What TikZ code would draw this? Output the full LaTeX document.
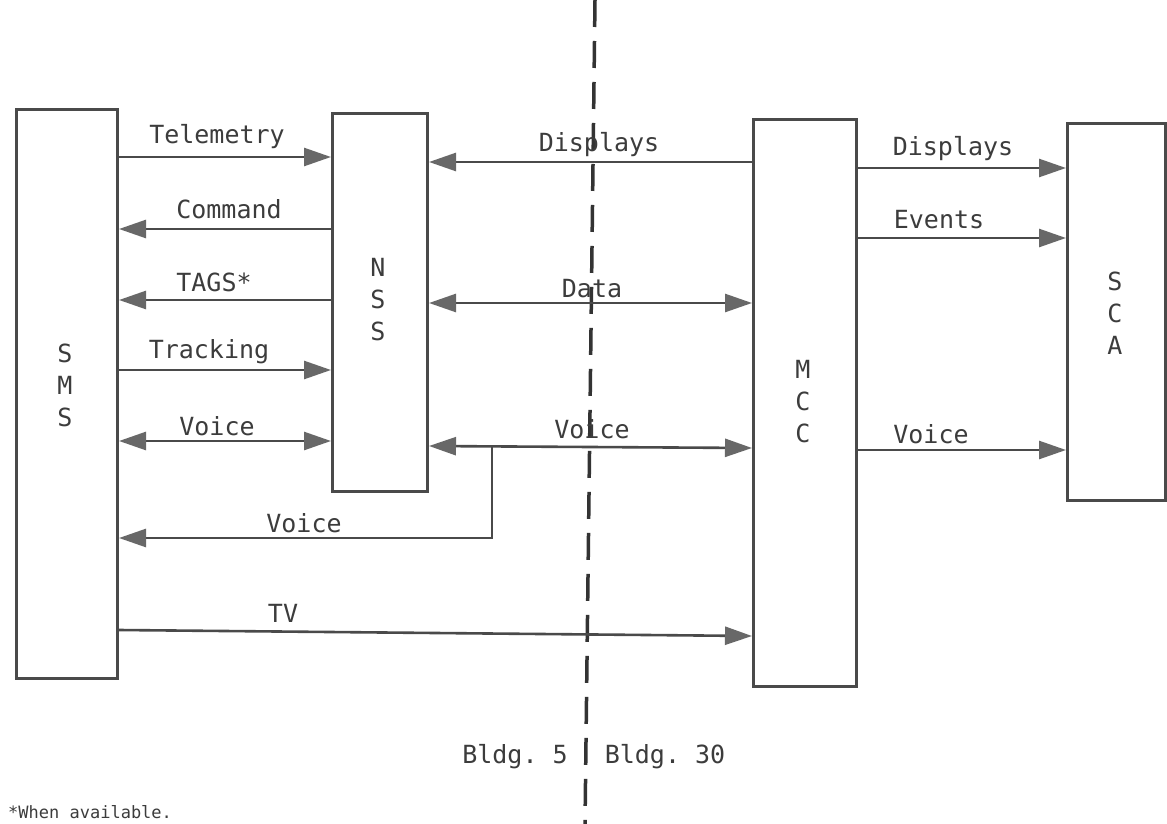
\documentclass[tikz,border=0pt]{standalone}
\usepackage{fontspec}
\setmonofont{DejaVu Sans Mono}
\usetikzlibrary{arrows.meta}
\definecolor{linec}{HTML}{4A4A4A}
\definecolor{headc}{HTML}{686868}
\definecolor{txtc}{HTML}{3C3C3C}
\begin{document}
\begin{tikzpicture}[x=1pt,y=-1pt,
  box/.style={draw=linec, line width=3pt, inner sep=0pt, anchor=north west},
  lbl/.style={font=\ttfamily\fontsize{25}{30}\selectfont, text=txtc, anchor=base, inner sep=0pt},
  letters/.style={font=\ttfamily\fontsize{25}{32}\selectfont, text=txtc, align=center, inner sep=0pt},
  conn/.style={draw=linec, line width=2.6pt},
  >={Triangle[length=27pt,width=18pt,color=headc]},
  divider/.style={draw=black!80, line width=3.5pt, dash pattern=on 27pt off 14pt}
]
\useasboundingbox (0,0) rectangle (1167,824);
\fill[white] (0,0) rectangle (1167,824);

% dashed building divider
\coordinate (dtop) at (595,0);
\coordinate (dbot) at (585,824);
\draw[divider] (dtop) -- (dbot);

% boxes
\node[box, minimum width=101pt, minimum height=569pt] (SMS) at (15,108) {};
\node[box, minimum width=95pt, minimum height=378pt] (NSS) at (331,112) {};
\node[box, minimum width=103pt, minimum height=567pt] (MCC) at (752,118) {};
\node[box, minimum width=98pt, minimum height=377pt] (SCA) at (1066,122) {};

% box letters
\node[letters] (SMSt) at (65,385) {S\\M\\S};
\node[letters] (NSSt) at (378,300) {N\\S\\S};
\node[letters] (MCCt) at (803,402) {M\\C\\C};
\node[letters] (SCAt) at (1115,313) {S\\C\\A};

% SMS <-> NSS
\draw[conn,->] (SMS.east |- 0,157) -- (NSS.west |- 0,157);
\draw[conn,<-] (SMS.east |- 0,229) -- (NSS.west |- 0,229);
\draw[conn,<-] (SMS.east |- 0,300) -- (NSS.west |- 0,300);
\draw[conn,->] (SMS.east |- 0,370) -- (NSS.west |- 0,370);
\draw[conn,<->] (SMS.east |- 0,441) -- (NSS.west |- 0,441);

% NSS <-> MCC
\draw[conn,<-] (NSS.east |- 0,162) -- (MCC.west |- 0,162);
\draw[conn,<->] (NSS.east |- 0,303) -- (MCC.west |- 0,303);
\draw[conn,<->] (NSS.east |- 0,446) -- (MCC.west |- 0,448);

% voice branch back to SMS
\coordinate (vj) at (492,446.5);
\draw[conn,->] (vj) -- (vj |- 0,538) -- (SMS.east |- 0,538);

% TV
\draw[conn,->] (SMS.east |- 0,630) -- (MCC.west |- 0,636);

% MCC -> SCA
\draw[conn,->] (MCC.east |- 0,168) -- (SCA.west |- 0,168);
\draw[conn,->] (MCC.east |- 0,238) -- (SCA.west |- 0,238);
\draw[conn,->] (MCC.east |- 0,450) -- (SCA.west |- 0,450);

% labels
\node[lbl] (l1) at (217,143) {Telemetry};
\node[lbl] (l2) at (229,218) {Command};
\node[lbl] (l3) at (214,291) {TAGS*};
\node[lbl] (l4) at (209,358) {Tracking};
\node[lbl] (l5) at (217,435) {Voice};
\node[lbl] (l6) at (304,532) {Voice};
\node[lbl] (l7) at (283,622) {TV};
\node[lbl] (l8) at (599,152) {Displays};
\node[lbl] (l9) at (592,297) {Data};
\node[lbl] (l10) at (592,438) {Voice};
\node[lbl] (l11) at (953,155) {Displays};
\node[lbl] (l12) at (939,228) {Events};
\node[lbl] (l13) at (931,443) {Voice};
\node[lbl] (b5) at (515,763) {Bldg. 5};
\node[lbl] (b30) at (665,763) {Bldg. 30};
\node[font=\ttfamily\fontsize{17}{20}\selectfont, text=txtc, anchor=base west, inner sep=0pt] (fn) at (8,818) {*When available.};
\end{tikzpicture}
\end{document}
